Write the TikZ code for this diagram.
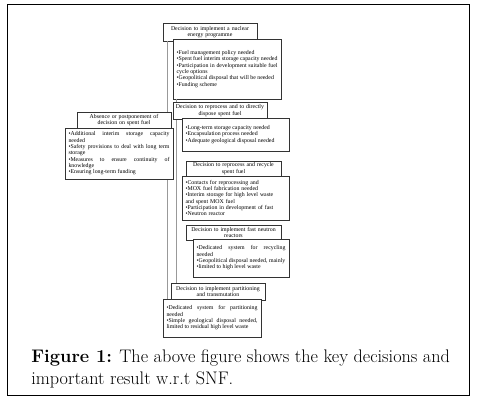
\documentclass[tikz,border=0pt]{standalone}
\usepackage{fontspec}
\newfontfamily\boxfont{Liberation Serif}
\usepackage{tikz}
\usetikzlibrary{positioning,calc}

\begin{document}
\begin{tikzpicture}[x=1pt, y=-1pt,
  every node/.style={outer sep=0pt},
  decbox/.style={draw=black!80, fill=white, line width=0.6pt, anchor=north west,
    align=center, inner xsep=2pt, inner ysep=0.5pt,
    font=\boxfont\fontsize{5.85}{6.33}\selectfont},
  resbox/.style={draw=black!80, fill=white, line width=0.6pt, anchor=north west,
    align=justify, inner xsep=3.5pt, inner ysep=0.5pt,
    font=\boxfont\fontsize{5.85}{6.33}\selectfont},
  link/.style={draw=black!40, line width=0.7pt}]
\useasboundingbox (0,0) rectangle (478,403);
\draw[line width=1pt] (7.3,5) rectangle (469.3,395.7);
% decisions and what each of them needs
\node[decbox, text width=90pt, minimum height=18pt] (prog) at (163,23)
  {Decision to implement a nuclear\\energy programme};
\node[resbox, text width=101pt, minimum height=60pt] (progres) at (173,39)
  {\textbullet Fuel management policy needed\\
   \textbullet Spent fuel interim storage capacity needed\\
   \textbullet Participation in development suitable fuel\linebreak cycle options\\
   \textbullet Geopolitical disposal that will be needed\\
   \textbullet Funding scheme};
% the two grey lines behind the boxes
\draw[link] ([xshift=4pt]prog.south west) -- ([xshift=4pt]prog.south west |- 0,299);
\draw[link] ([xshift=3pt]progres.south west) -- ([xshift=3pt]progres.south west |- 0,283);
\node[decbox, text width=90pt, minimum height=17pt] (dispdec) at (173,102)
  {Decision to reprocess and to directly\\dispose spent fuel};
\node[resbox, text width=100pt, minimum height=33pt] (dispres) at (182,118)
  {\textbullet Long-term storage capacity needed\\
   \textbullet Encapsulation process needed\\
   \textbullet Adequate geological disposal needed};
\node[decbox, text width=90pt, minimum height=16pt] (absdec) at (77,112)
  {Absence or postponement of\\decision on spent fuel};
\node[resbox, text width=101pt, minimum height=51pt] (absres) at (65,128)
  {\textbullet Additional interim storage capacity\linebreak needed\\
   \textbullet Safety provisions to deal with long term\linebreak storage\\
   \textbullet Measures to ensure continuity of\linebreak knowledge\\
   \textbullet Ensuring long-term funding};
\node[decbox, text width=91pt, minimum height=15pt] (recdec) at (186,161)
  {Decision to reprocess and recycle\\spent fuel};
\node[resbox, align=left, text width=100pt, minimum height=44pt] (recres) at (182,176)
  {\textbullet Contacts for reprocessing and\\
   \textbullet MOX fuel fabrication needed\\
   \textbullet Interim storage for high level waste\\
   and spent MOX fuel\\
   \textbullet Participation in development of fast\\
   \textbullet Neutron reactor};
\node[decbox, text width=91pt, minimum height=15pt] (fastdec) at (186,225)
  {Decision to implement fast neutron\\reactors};
\node[resbox, text width=89pt, minimum height=38pt] (fastres) at (193,239)
  {\textbullet Dedicated system for recycling\linebreak needed\\
   \textbullet Geopolitical disposal needed, mainly\\
   \textbullet limited to high level waste};
\node[decbox, text width=90pt, minimum height=17pt] (partdec) at (171,283)
  {Decision to implement partitioning\\and transmutation};
\node[resbox, text width=91pt, minimum height=38pt] (partres) at (163,299)
  {\textbullet Dedicated system for partitioning\linebreak needed\\
   \textbullet Simple geological disposal needed,\linebreak limited to residual high level waste};
% caption
\node[anchor=base west, align=left, font=\fontsize{18.2}{21.5}\selectfont] (caption) at (28,384)
  {\textbf{Figure 1:} The above figure shows the key decisions and\\important result w.r.t SNF.};
\end{tikzpicture}
\end{document}
